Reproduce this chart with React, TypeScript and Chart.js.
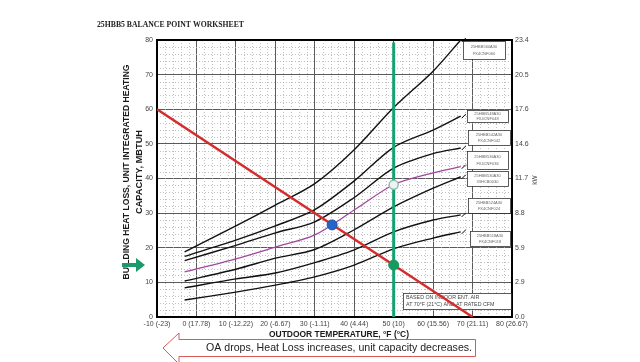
import React, { useEffect, useRef } from "react";
import { Chart, registerables } from "chart.js";

Chart.register(...registerables);

// ---- data ----
const tempF = [-3, 10, 20, 30, 40, 50, 60, 67];
const cap060 = [18.8, 26.3, 32.3, 38.5, 48.3, 60.5, 71.0, 80.0];
const cap048 = [17.5, 22.2, 26.3, 31.0, 39.3, 49.0, 54.0, 58.0];
const cap042 = [16.3, 20.7, 24.3, 27.5, 34.5, 43.0, 47.2, 48.8];
const cap036 = [13.0, 16.8, 20.2, 23.7, 30.9, 38.2, 41.6, 43.4];
const cap030 = [10.4, 13.8, 17.0, 19.5, 25.2, 31.8, 37.2, 40.5];
const cap024 = [8.4, 11.0, 12.7, 15.7, 19.4, 24.6, 28.0, 29.5];
const cap018 = [4.9, 7.2, 9.2, 11.6, 15.0, 19.7, 22.8, 24.6];

const heatLossX = [-10, 70];
const heatLossY = [60, 0];

const designTempX = [50, 50];
const designTempY = [0, 79.3];

const balancePoint = [34.4, 26.6];
const unitCapAtDesign = [50, 38.2];
const heatLossAtDesign = [50, 15];

const xTickLabels = [
  "-10 (-23)", "0 (17.78)", "10 (-12.22)", "20 (-6.67)", "30 (-1.11)",
  "40 (4.44)", "50 (10)", "60 (15.56)", "70 (21.11)", "80 (26.67)",
];
const yTickLabels = ["0", "10", "20", "30", "40", "50", "60", "70", "80"];
const kwTickLabels = ["0.0", "2.9", "5.9", "8.8", "11.7", "14.6", "17.6", "20.5", "23.4"];

const curveModels = [
  ["25HBB560A30", "FX4CNF060"],
  ["25HBB548A30", "FX4CNF048"],
  ["25HBB542A30", "FX4CNF042"],
  ["25HBB536A30", "FX4CNF036"],
  ["25HBB530A30", "33HCB0030"],
  ["25HBB524A30", "FX4CNF024"],
  ["25HBB518A30", "FX4CNF018"],
];

const titleText = "25HBB5 BALANCE POINT WORKSHEET";
const yTitleLines = ["BUILDING HEAT LOSS, UNIT INTEGRATED HEATING", "CAPACITY, MBTUH"];
const xTitleText = "OUTDOOR TEMPERATURE, \u00B0F (\u00B0C)";
const noteLines = ["BASED ON INDOOR ENT. AIR", "AT 70\u00B0F (21\u00B0C) AND AT RATED CFM"];
const arrowText = "OA drops, Heat Loss increases, unit capacity decreases.";

// ---- layout (pixels, style only) ----
const labelBoxes = [
  { x: 463, y: 41, w: 42, h: 18 },
  { x: 467, y: 110, w: 41, h: 12 },
  { x: 468, y: 130, w: 42, h: 15 },
  { x: 467, y: 151, w: 41, h: 18 },
  { x: 467, y: 171, w: 41, h: 15 },
  { x: 468, y: 198, w: 42, h: 15 },
  { x: 470, y: 231, w: 40, h: 15 },
];

const SANS = "'Liberation Sans', Arial, sans-serif";

function pts(xs: number[], ys: number[]) {
  return xs.map((x, i) => ({ x, y: ys[i] }));
}

export default function App() {
  const ref = useRef<HTMLCanvasElement | null>(null);

  useEffect(() => {
    if (!ref.current) return;
    const series = [cap060, cap048, cap042, cap036, cap030, cap024, cap018];

    const extras = {
      id: "extras",
      beforeDraw(chart: any) {
        const c = chart.ctx;
        c.save();
        c.fillStyle = "#ffffff";
        c.fillRect(0, 0, chart.width, chart.height);
        c.restore();
      },
      beforeDatasetsDraw(chart: any) {
        const c = chart.ctx;
        const xs = chart.scales.x;
        const ys = chart.scales.y;
        const a = chart.chartArea;
        c.save();
        // minor dotted grid
        c.strokeStyle = "#b0b0b0";
        c.lineWidth = 0.8;
        c.setLineDash([1, 2]);
        for (let v = -10; v <= 80; v += 2) {
          if (v % 10 === 0) continue;
          const px = Math.round(xs.getPixelForValue(v)) + 0.5;
          c.beginPath();
          c.moveTo(px, a.top);
          c.lineTo(px, a.bottom);
          c.stroke();
        }
        for (let v = 0; v <= 80; v += 2) {
          if (v % 10 === 0) continue;
          const py = Math.round(ys.getPixelForValue(v)) + 0.5;
          c.beginPath();
          c.moveTo(a.left, py);
          c.lineTo(a.right, py);
          c.stroke();
        }
        c.setLineDash([]);
        // frame
        c.strokeStyle = "#000";
        c.lineWidth = 2;
        c.strokeRect(a.left, a.top, a.right - a.left, a.bottom - a.top);

        // label boxes
        labelBoxes.forEach((b, i) => {
          c.fillStyle = "#fff";
          c.fillRect(b.x, b.y, b.w, b.h);
          c.strokeStyle = "#333";
          c.lineWidth = 0.8;
          c.strokeRect(b.x + 0.5, b.y + 0.5, b.w, b.h);
          c.fillStyle = "#666";
          c.font = `4px ${SANS}`;
          c.textAlign = "center";
          c.textBaseline = "middle";
          c.fillText(curveModels[i][0], b.x + b.w / 2, b.y + b.h * 0.32);
          c.fillText(curveModels[i][1], b.x + b.w / 2, b.y + b.h * 0.7);
          // leader tick
          const ys2 = series[i];
          const ex = xs.getPixelForValue(tempF[tempF.length - 1]);
          const ey = ys.getPixelForValue(ys2[ys2.length - 1]);
          c.strokeStyle = "#000";
          c.lineWidth = 1;
          c.beginPath();
          c.moveTo(ex + 1, ey + 2);
          c.lineTo(ex + 5, ey - 2);
          c.stroke();
        });

        // note box
        c.fillStyle = "#fff";
        c.fillRect(403, 293, 108, 16);
        c.strokeStyle = "#333";
        c.lineWidth = 0.8;
        c.strokeRect(403.5, 293.5, 108, 16);
        c.fillStyle = "#444";
        c.font = `5.3px ${SANS}`;
        c.textAlign = "left";
        c.textBaseline = "middle";
        c.fillText(noteLines[0], 406, 298);
        c.fillText(noteLines[1], 406, 305);
        c.restore();
      },
      afterDraw(chart: any) {
        const c = chart.ctx;
        c.save();
        // title
        c.fillStyle = "#222";
        c.font = `bold 8px 'Liberation Serif', 'Times New Roman', serif`;
        c.textAlign = "left";
        c.textBaseline = "middle";
        c.fillText(titleText, 97, 25, 147);

        // y title
        c.fillStyle = "#1a1a1a";
        c.font = `bold 9.5px ${SANS}`;
        c.textAlign = "center";
        c.textBaseline = "middle";
        c.save();
        c.translate(126, 172);
        c.rotate(-Math.PI / 2);
        c.fillText(yTitleLines[0], 0, 0, 215);
        c.restore();
        c.save();
        c.translate(139, 172);
        c.rotate(-Math.PI / 2);
        c.fillText(yTitleLines[1], 0, 0, 84);
        c.restore();

        // x title
        c.font = `bold 8.5px ${SANS}`;
        c.fillText(xTitleText, 339, 335, 140);

        // kW
        c.font = `6.5px ${SANS}`;
        c.fillStyle = "#444";
        c.save();
        c.translate(535, 180);
        c.rotate(-Math.PI / 2);
        c.fillText("kW", 0, 0);
        c.restore();

        // green arrow
        c.fillStyle = "#1a9a6a";
        c.fillRect(122, 263, 15, 4);
        c.beginPath();
        c.moveTo(136, 258);
        c.lineTo(145, 265);
        c.lineTo(136, 272);
        c.closePath();
        c.fill();

        // bottom arrow
        c.strokeStyle = "#d65a5a";
        c.lineWidth = 1;
        c.beginPath();
        c.moveTo(163, 348);
        c.lineTo(179, 333);
        c.lineTo(179, 339.5);
        c.lineTo(475.5, 339.5);
        c.lineTo(475.5, 356.5);
        c.lineTo(179, 356.5);
        c.lineTo(179, 364);
        c.closePath();
        c.stroke();
        c.fillStyle = "#222";
        c.font = `11px ${SANS}`;
        c.textAlign = "center";
        c.textBaseline = "middle";
        c.fillText(arrowText, 339, 348, 266);
        c.restore();
      },
    };

    const curveStyle = (i: number) =>
      i === 3
        ? { borderColor: "#a2479f", borderWidth: 1.3 }
        : { borderColor: "#111", borderWidth: 1.4 };

    const chart = new Chart(ref.current, {
      type: "line",
      data: {
        datasets: [
          {
            data: [{ x: balancePoint[0], y: balancePoint[1] }],
            showLine: false,
            pointRadius: 5,
            pointBackgroundColor: "#2463c9",
            pointBorderColor: "#1d55b0",
            pointStyle: "circle",
          },
          {
            data: [{ x: unitCapAtDesign[0], y: unitCapAtDesign[1] }],
            showLine: false,
            pointRadius: 4.5,
            pointBackgroundColor: "#eef3f2",
            pointBorderColor: "#8fbfb2",
            pointBorderWidth: 1.5,
          },
          {
            data: [{ x: heatLossAtDesign[0], y: heatLossAtDesign[1] }],
            showLine: false,
            pointRadius: 5,
            pointBackgroundColor: "#179a62",
            pointBorderColor: "#179a62",
          },
          {
            data: pts(designTempX, designTempY),
            borderColor: "#18a070",
            borderWidth: 3,
            pointRadius: 0,
          },
          {
            data: pts(heatLossX, heatLossY),
            borderColor: "#d42c2c",
            borderWidth: 2.4,
            pointRadius: 0,
          },
          ...series.map((s, i) => ({
            data: pts(tempF, s),
            ...curveStyle(i),
            pointRadius: 0,
            tension: 0.3,
          })),
        ],
      },
      options: {
        responsive: false,
        animation: false,
        maintainAspectRatio: false,
        layout: { padding: { top: 40, left: 0, right: 0, bottom: 0 } },
        plugins: { legend: { display: false }, tooltip: { enabled: false }, title: { display: false } },
        scales: {
          x: {
            type: "linear",
            min: -10,
            max: 80,
            position: "bottom",
            afterFit: (s: any) => { s.height = 45; },
            ticks: {
              stepSize: 10,
              autoSkip: false,
              maxRotation: 0,
              padding: 3,
              color: "#444",
              font: { size: 7, family: SANS },
              callback: (v: any) => xTickLabels[Math.round((Number(v) + 10) / 10)] ?? "",
            },
            grid: { color: "#5a5a5a", lineWidth: 1, drawTicks: false },
            border: { display: true, color: "#000", width: 2 },
          },
          y: {
            type: "linear",
            min: 0,
            max: 80,
            position: "left",
            afterFit: (s: any) => { s.width = 157; },
            ticks: {
              stepSize: 10,
              padding: 4,
              color: "#444",
              font: { size: 7, family: SANS },
              callback: (v: any) => yTickLabels[Math.round(Number(v) / 10)] ?? "",
            },
            grid: { color: "#5a5a5a", lineWidth: 1, drawTicks: false },
            border: { display: true, color: "#000", width: 2 },
          },
          y2: {
            type: "linear",
            min: 0,
            max: 80,
            position: "right",
            afterFit: (s: any) => { s.width = 128; },
            ticks: {
              stepSize: 10,
              padding: 3,
              color: "#444",
              font: { size: 7, family: SANS },
              callback: (v: any) => kwTickLabels[Math.round(Number(v) / 10)] ?? "",
            },
            grid: { display: false, drawTicks: false },
            border: { display: true, color: "#000", width: 2 },
          },
        },
      } as any,
      plugins: [extras],
    });
    return () => chart.destroy();
  }, []);

  return (
    <div style={{ position: "absolute", left: 0, top: 0, width: 640, height: 362 }}>
      <canvas ref={ref} width={640} height={362} style={{ width: 640, height: 362 }} />
    </div>
  );
}
